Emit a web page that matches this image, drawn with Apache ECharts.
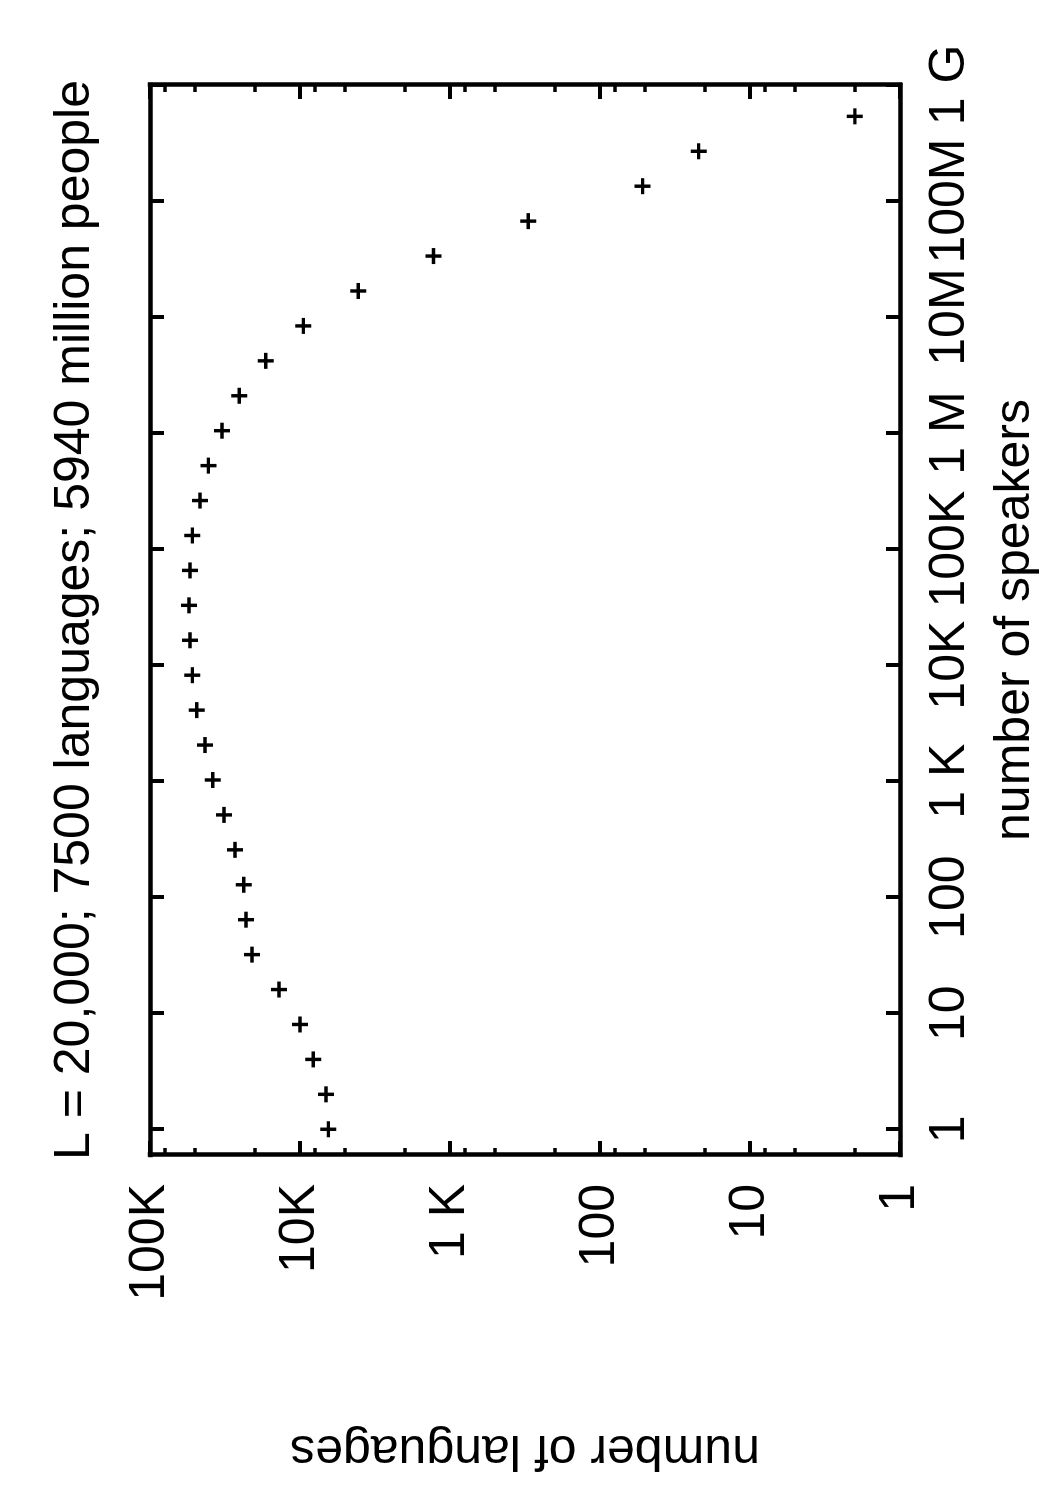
<!DOCTYPE html>
<html>
<head>
<meta charset="utf-8">
<title>languages by number of speakers</title>
<script src="https://cdn.jsdelivr.net/npm/echarts@6/dist/echarts.min.js"></script>
<style>
    html, body { margin: 0; padding: 0; background: #fff; width: 1050px; height: 1500px; overflow: hidden; }
    /* the chart is drawn landscape and turned a quarter turn, like the printed page */
    #chart {
        position: absolute; left: 0; top: 0;
        width: 1500px; height: 1050px;
        transform-origin: 0 0;
        transform: translate(0px, 1500px) rotate(-90deg);
    }
</style>
</head>
<body>
<div id="chart"></div>
<script>
// one point per doubling of speakers
const speakers = [1, 2, 4, 8, 16, 32, 64, 128, 256, 512, 1024, 2048, 4096, 8192, 16384,
    32768, 65536, 131072, 262144, 524288, 1048576, 2097152, 4194304, 8388608,
    16777216, 33554432, 67108864, 134217728, 268435456, 536870912]
const languages = [6470, 6710, 8150, 10000, 13800, 20900, 22900, 23700, 27100, 32100,
    38200, 43000, 48800, 52200, 54100, 54900, 54100, 52200, 46400, 40800,
    33100, 25400, 16900, 9500, 4090, 1290, 301, 52, 22, 2]

const speakerMin = 0.6
const speakerMax = 1e9
const speakerTicks = [1, 10, 100, 1e3, 1e4, 1e5, 1e6, 1e7, 1e8, 1e9]
const speakerTickLabels = ['1', '10', '100', '1 K', '10K', '100K', '1 M', '10M', '100M', '1 G']

const languageMin = 1
const languageMax = 1e5
const languageTicks = [1, 10, 100, 1e3, 1e4, 1e5]
const languageTickLabels = ['1', '10', '100', '1 K', '10K', '100K']
const languageMinorTicks = [2, 5, 8, 20, 50, 80, 200, 500, 800, 2000, 5000, 8000, 20000, 50000, 80000]

const titleText = 'L = 20,000; 7500 languages; 5940 million people'

const FONT = '"Liberation Sans", Arial, Helvetica, sans-serif'
const INK = '#000'
const PLUS = 'path://M5.5,0H8.5V5.5H14V8.5H8.5V14H5.5V8.5H0V5.5H5.5Z'

function labelFor(ticks, labels) {
    return function (v) {
        let i = ticks.indexOf(v)
        if (i < 0) i = Math.round(Math.log10(v))
        return labels[i] || ''
    }
}

function logAxis(min, max, position, ticks, tickLength, tickWidth, showLine) {
    return {
        type: 'log',
        logBase: 10,
        min: min,
        max: max,
        position: position,
        axisLine: {
            show: showLine,
            onZero: false,
            lineStyle: { color: INK, width: 4.5, cap: 'square' }
        },
        axisTick: {
            show: true,
            inside: true,
            length: tickLength,
            customValues: ticks,
            lineStyle: { color: INK, width: tickWidth }
        },
        minorTick: { show: false },
        splitLine: { show: false },
        axisLabel: { show: false },
        axisPointer: { show: false }
    }
}

let speakerAxis = logAxis(speakerMin, speakerMax, 'bottom', speakerTicks, 14, 4, true)
speakerAxis.axisLabel = {
    show: true,
    customValues: speakerTicks,
    formatter: labelFor(speakerTicks, speakerTickLabels),
    margin: 25,
    fontSize: 50,
    fontFamily: FONT,
    color: INK,
    hideOverlap: false
}
speakerAxis.name = 'number of speakers'
speakerAxis.nameLocation = 'middle'
speakerAxis.nameGap = 90
speakerAxis.nameTextStyle = { fontSize: 50, fontFamily: FONT, color: INK }

let languageAxis = logAxis(languageMin, languageMax, 'left', languageTicks, 14, 4, true)
languageAxis.axisLabel = {
    show: true,
    customValues: languageTicks,
    formatter: labelFor(languageTicks, languageTickLabels),
    margin: 29,
    fontSize: 50,
    fontFamily: FONT,
    color: INK,
    hideOverlap: false
}
languageAxis.name = 'number of languages'
languageAxis.nameLocation = 'middle'
languageAxis.nameRotate = 90
languageAxis.nameGap = 270
languageAxis.nameTextStyle = { fontSize: 50, fontFamily: FONT, color: INK }

let chart = echarts.init(document.getElementById('chart'), null, { renderer: 'canvas' })
let option = {
    animation: false,
    backgroundColor: '#fff',
    textStyle: { fontFamily: FONT },
    title: {
        text: titleText,
        left: 880,
        top: 50,
        padding: 0,
        textAlign: 'center',
        textStyle: { fontSize: 50, fontWeight: 'normal', fontFamily: FONT, color: INK }
    },
    grid: {
        left: 345,
        right: 85,
        top: 150,
        bottom: 150,
        containLabel: false,
        outerBoundsMode: 'none'
    },
    xAxis: [
        speakerAxis,
        logAxis(speakerMin, speakerMax, 'top', speakerTicks, 14, 4, true)
    ],
    yAxis: [
        languageAxis,
        logAxis(languageMin, languageMax, 'right', languageTicks, 14, 4, true),
        logAxis(languageMin, languageMax, 'left', languageMinorTicks, 7, 3.5, false),
        logAxis(languageMin, languageMax, 'right', languageMinorTicks, 7, 3.5, false)
    ],
    series: [
        {
            type: 'scatter',
            xAxisIndex: 0,
            yAxisIndex: 0,
            symbol: PLUS,
            symbolSize: 16,
            itemStyle: { color: INK, opacity: 1 },
            silent: true,
            emphasis: { disabled: true },
            data: speakers.map(function (s, i) { return [s, languages[i]] })
        }
    ]
}
chart.setOption(option)
</script>
</body>
</html>
